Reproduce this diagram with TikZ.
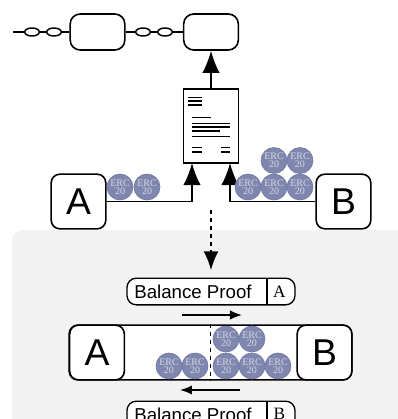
\documentclass[tikz,border=0pt]{standalone}
\usepackage{fontspec}
\setmainfont{Liberation Serif}
\setsansfont{Liberation Sans}
\usetikzlibrary{arrows.meta,shapes.geometric}
\definecolor{bggray}{HTML}{F2F2F2}
\definecolor{coinfill}{HTML}{8087AE}
\definecolor{coinedge}{HTML}{6F76A3}
\definecolor{cointext}{HTML}{D5D8E6}
\tikzset{
	blockbox/.style={draw,line width=1.2pt,rounded corners=7.5pt,fill=white,minimum width=41pt,minimum height=27pt,inner sep=0pt},
	party/.style={draw,line width=1.2pt,rounded corners=6.5pt,fill=white,minimum width=41pt,minimum height=41pt,inner sep=0pt,font=\sffamily\fontsize{28}{28}\selectfont},
	channel/.style={draw,line width=1.2pt,rounded corners=6.5pt,fill=white,minimum width=212pt,minimum height=41pt,inner sep=0pt},
	proof/.style={draw,line width=1pt,rounded corners=7pt,fill=white,minimum width=126pt,minimum height=20pt,inner sep=0pt},
	prooftext/.style={inner sep=0pt,font=\sffamily\fontsize{14}{14}\selectfont},
	ownertext/.style={inner sep=0pt,font=\fontsize{13}{13}\selectfont},
	link/.style={draw,line width=1.1pt,ellipse,fill=white,minimum width=11pt,minimum height=6pt,inner sep=0pt},
	coin/.style={circle,draw=coinedge,line width=0.5pt,fill=coinfill,text=cointext,minimum size=19.5pt,inner sep=0pt,align=center,font=\fontsize{7.5}{7.5}\selectfont},
	arrow/.style={-{Latex[length=16.5pt,width=13pt]},line width=1.2pt},
	smallarrow/.style={-{Latex[length=9pt,width=7pt]},line width=1.2pt},
	docline/.style={line width=0.9pt}
}
\newcommand{\erc}{ERC\\[-1.5pt]20}
\begin{document}
\begin{tikzpicture}[x=0.75pt,y=-0.75pt]
	\useasboundingbox (0,0) rectangle (398,419);
	\clip (0,0) rectangle (398,419);
	% background
	\fill[bggray,rounded corners=8pt] (12,230) -- (12,440) -- (420,440) -- (420,230) -- cycle;
	% chain
	\coordinate (chainstart) at (13,32);
	\node[blockbox] (block1) at (97.5,32) {};
	\node[blockbox] (block2) at (211,32) {};
	\draw[line width=1.1pt] (chainstart) -- (block1);
	\draw[line width=1.1pt] (block1) -- (block2);
	\node[link] (link1) at (32,32) {};
	\node[link] (link2) at (54,32) {};
	\node[link] (link3) at (143,32) {};
	\node[link] (link4) at (165,32) {};
	% document
	\node[draw,line width=1.2pt,fill=white,minimum width=41pt,minimum height=55.5pt,inner sep=0pt] (doc) at (211,126) {};
	\foreach \y in {97.3,101,105} \draw[docline] (188,\y)--(201.7,\y);
	\draw[docline] (192,117.7)--(211,117.7);
	\foreach \y in {123.3,127,136.7} \draw[docline] (192,\y)--(230,\y);
	\draw[docline] (192,131)--(220,131);
	\foreach \y in {147.7,152} {
		\draw[docline] (192,\y)--(201.7,\y);
		\draw[docline] (220.7,\y)--(230,\y);
	}
	\draw[arrow] (doc.north) -- (block2.south);
	% parties
	\node[party] (A) at (78.5,201.5) {A};
	\node[party] (B) at (343.5,201.5) {B};
	\coordinate (docl) at (192,163);
	\coordinate (docr) at (230,163);
	\draw[arrow] (A.east) -| (docl);
	\draw[arrow] (B.west) -| (docr);
	\foreach \n/\x/\y in {a1/120/187,a2/147/187,b1/248/187,b2/274/187,b3/300/187,b4/274/160.5,b5/300/160.5}
		\node[coin] (coin\n) at (\x,\y) {\erc};
	% dashed arrow
	\coordinate (dashstart) at (211,210);
	\coordinate (dashend) at (211,270);
	\draw[dashed,-{Latex[length=14pt,width=11pt]},line width=1pt] (dashstart) -- (dashend);
	% balance proofs
	\node[proof] (proofA) at (211,291.5) {};
	\node[prooftext] (textA) at (193,291.5) {Balance Proof};
	\node[ownertext] (ownerA) at (279.5,292) {A};
	\draw[line width=1pt] (267,278)--(267,305);
	\node[proof] (proofB) at (211,414.5) {};
	\node[prooftext] (textB) at (193,414.5) {Balance Proof};
	\node[ownertext] (ownerB) at (279.5,414) {B};
	\draw[line width=1pt] (267,401)--(267,428);
	% direction arrows
	\coordinate (rightstart) at (182,315);
	\coordinate (rightend) at (242,315);
	\draw[smallarrow] (rightstart) -- (rightend);
	\coordinate (leftstart) at (240,390);
	\coordinate (leftend) at (180,390);
	\draw[smallarrow] (leftstart) -- (leftend);
	% channel
	\node[channel] (chan) at (210.5,352.5) {};
	\node[party] (chanA) at (97,352.5) {A};
	\node[party] (chanB) at (324.5,352.5) {B};
	\draw[dashed,line width=1.1pt] (chan.north) -- (chan.south);
	\foreach \n/\x/\y in {1/169/366,2/195/366,3/226/366,4/252/366,5/278/366,6/226/339,7/252/339}
		\node[coin] (chancoin\n) at (\x,\y) {\erc};
\end{tikzpicture}
\end{document}
